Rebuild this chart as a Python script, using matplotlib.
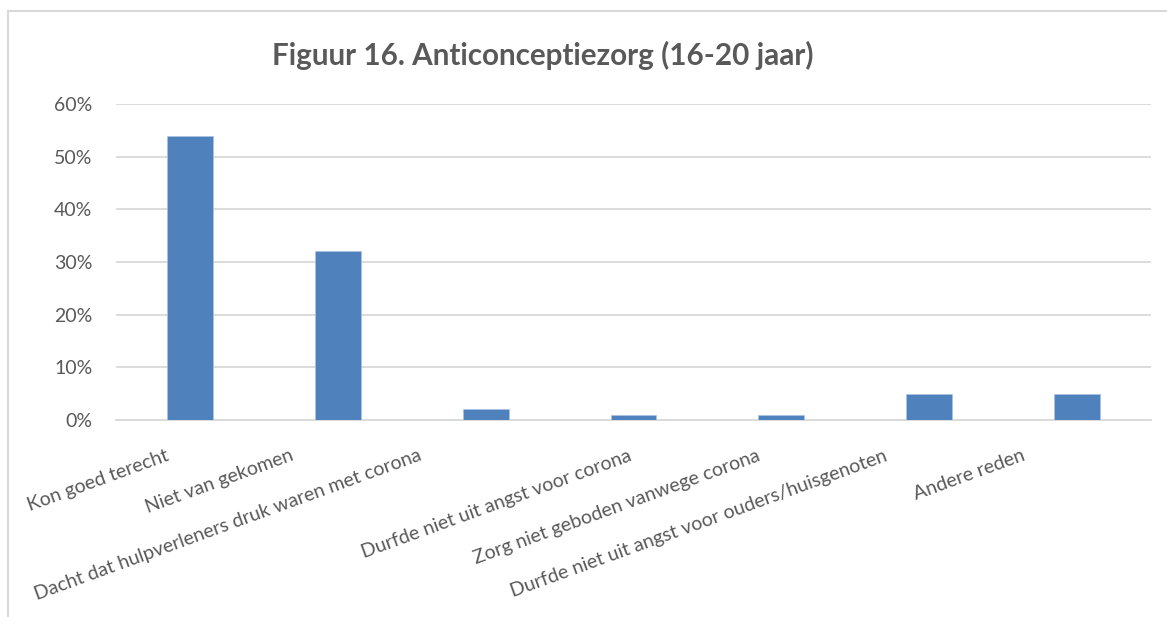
import matplotlib
matplotlib.use("Agg")
import matplotlib.pyplot as plt
from matplotlib.lines import Line2D
from matplotlib.ticker import PercentFormatter, MultipleLocator
import matplotlib.transforms as mtrans

categories = [
    "Kon goed terecht",
    "Niet van gekomen",
    "Dacht dat hulpverleners druk waren met corona",
    "Durfde niet uit angst voor corona",
    "Zorg niet geboden vanwege corona",
    "Durfde niet uit angst voor ouders/huisgenoten",
    "Andere reden",
]
values = [0.54, 0.32, 0.02, 0.01, 0.01, 0.05, 0.05]
title = "Figuur 16. Anticonceptiezorg (16-20 jaar)"

# label placement shifts (pixels, relative to tick) - layout only
label_dx = [-25, -48, -68, -6, -25, -46, -56]
label_dy = -27

W, H, DPI = 1167, 617, 100
fig = plt.figure(figsize=(W / DPI, H / DPI), dpi=DPI)
font = "Lato"
plt.rcParams['font.family'] = [font, 'DejaVu Sans']
txt = "#595959"
grid = "#D9D9D9"

ax = fig.add_axes([116 / W, 1 - 420 / H, (1151 - 116) / W, (420 - 104) / H])
x = list(range(len(categories)))
ax.bar(x, values, width=0.31, color="#4F81BD", edgecolor="#A9C3E3", linewidth=0.5, zorder=3)
ax.set_xlim(-0.5, len(categories) - 0.5)
ax.set_ylim(0, 0.6)
ax.yaxis.set_major_locator(MultipleLocator(0.1))
ax.yaxis.set_major_formatter(PercentFormatter(1.0, decimals=0))
ax.grid(axis="y", color=grid, linewidth=1.3, zorder=0)
for s in ["top", "right", "left"]:
    ax.spines[s].set_visible(False)
ax.spines["bottom"].set_color(grid)
ax.spines["bottom"].set_linewidth(1.3)
ax.tick_params(axis="y", length=0, pad=17, labelsize=14, labelcolor=txt)
ax.tick_params(axis="x", length=0, pad=0)
ax.set_xticks(x)
ax.set_xticklabels([])

for i, lab in enumerate(categories):
    off = mtrans.ScaledTranslation(label_dx[i] / DPI, label_dy / DPI, fig.dpi_scale_trans)
    ax.text(i, 0, lab, transform=ax.transData + off, rotation=20,
            rotation_mode="anchor", ha="right", va="top",
            fontsize=14, color=txt)

fig.text(543 / W, 1 - 55 / H, title, ha="center", va="center",
         fontsize=21.3, fontweight="bold", color=txt)

# chart border (left and top visible)
fig.add_artist(Line2D([8 / W, 8 / W], [0, 1 - 11 / H], transform=fig.transFigure, color=grid, lw=1.5))
fig.add_artist(Line2D([8 / W, 1], [1 - 11 / H, 1 - 11 / H], transform=fig.transFigure, color=grid, lw=1.5))

fig.savefig("out.png", dpi=DPI)
